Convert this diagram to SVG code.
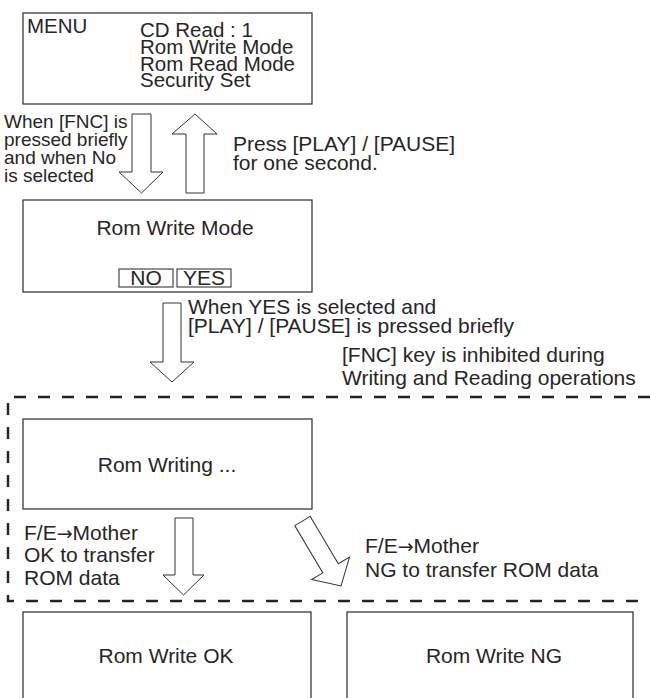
<svg xmlns="http://www.w3.org/2000/svg" width="650" height="698" viewBox="0 0 650 698">
<style>
  .box { fill: #ffffff; stroke: #3a3a3a; stroke-width: 1.3; }
  .sbox { fill: none; stroke: #3a3a3a; stroke-width: 1.1; }
  .arrow { fill: #ffffff; stroke: #333333; stroke-width: 1; stroke-linejoin: miter; }
  .dash { fill: none; stroke: #222222; stroke-width: 2.4; stroke-dasharray: 12 12; }
  text { font-family: "Liberation Sans", Arial, sans-serif; font-size: 21px; fill: #262626; }
  .sm { font-size: 19px; }
  .mn { font-size: 20.5px; }
  .mid { text-anchor: middle; }
  .ar { font-family: "DejaVu Sans", sans-serif; font-size: 19px; }
</style>
<rect width="650" height="698" fill="#ffffff"/>

<g id="frame">
  <path class="dash" d="M 650 397 H 8 V 601 H 650"/>
</g>

<g id="menu">
  <rect class="box" x="23" y="13" width="289" height="91"/>
  <text class="mn" x="27" y="33">MENU</text>
  <text class="mn"><tspan x="140" y="37">CD  Read : 1</tspan><tspan x="140" y="54">Rom Write Mode</tspan><tspan x="140" y="71">Rom Read Mode</tspan><tspan x="140" y="87">Security  Set</tspan></text>
</g>

<g id="romWriteMode">
  <rect class="box" x="23" y="200" width="289" height="92"/>
  <text class="mid" x="175" y="235">Rom Write Mode</text>
  <rect class="sbox" x="119" y="269" width="54" height="18"/>
  <text class="mid" x="146" y="285">NO</text>
  <rect class="sbox" x="177" y="269" width="54" height="18"/>
  <text class="mid" x="204" y="285">YES</text>
</g>

<g id="romWriting">
  <rect class="box" x="23" y="419" width="289" height="90"/>
  <text class="mid" x="167" y="472">Rom Writing ...</text>
</g>

<g id="romWriteOK">
  <rect class="box" x="23" y="612" width="288" height="100"/>
  <text class="mid" x="166" y="663">Rom Write OK</text>
</g>

<g id="romWriteNG">
  <rect class="box" x="347" y="612" width="286" height="100"/>
  <text class="mid" x="494" y="663">Rom Write NG</text>
</g>

<g id="connectors">
  <polygon class="arrow" points="132,114 151,114 151,172 163,172 141.5,193 119,172 132,172"/>
  <text class="sm"><tspan x="4" y="128">When [FNC] is</tspan><tspan x="4" y="146">pressed briefly</tspan><tspan x="4" y="164">and when No</tspan><tspan x="4" y="182">is selected</tspan></text>

  <polygon class="arrow" points="186,193 204,193 204,134 217,134 195,114 172,134 186,134"/>
  <text><tspan x="233" y="151">Press [PLAY] / [PAUSE]</tspan><tspan x="233" y="170">for one second.</tspan></text>

  <polygon class="arrow" points="163,303 181,303 181,362 194,362 172,382 150,362 163,362"/>
  <text><tspan x="188" y="314">When YES is selected and</tspan><tspan x="188" y="333">[PLAY] / [PAUSE] is pressed briefly</tspan></text>
  <text><tspan x="342" y="362">[FNC] key is inhibited during</tspan><tspan x="342" y="385">Writing and Reading operations</tspan></text>

  <polygon class="arrow" points="175,518 193,518 193,575 204,575 183.5,595 163,575 175,575"/>
  <text><tspan x="24" y="540">F/E<tspan class="ar">→</tspan>Mother</tspan><tspan x="24" y="562">OK to transfer</tspan><tspan x="24" y="585">ROM data</tspan></text>

  <polygon class="arrow" transform="translate(302.5,521) rotate(-30.7)" points="-9,0 9,0 9,55 22,55 0,75.5 -22,55 -9,55"/>
  <text><tspan x="365" y="553">F/E<tspan class="ar">→</tspan>Mother</tspan><tspan x="365" y="577">NG to transfer ROM data</tspan></text>
</g>
</svg>
